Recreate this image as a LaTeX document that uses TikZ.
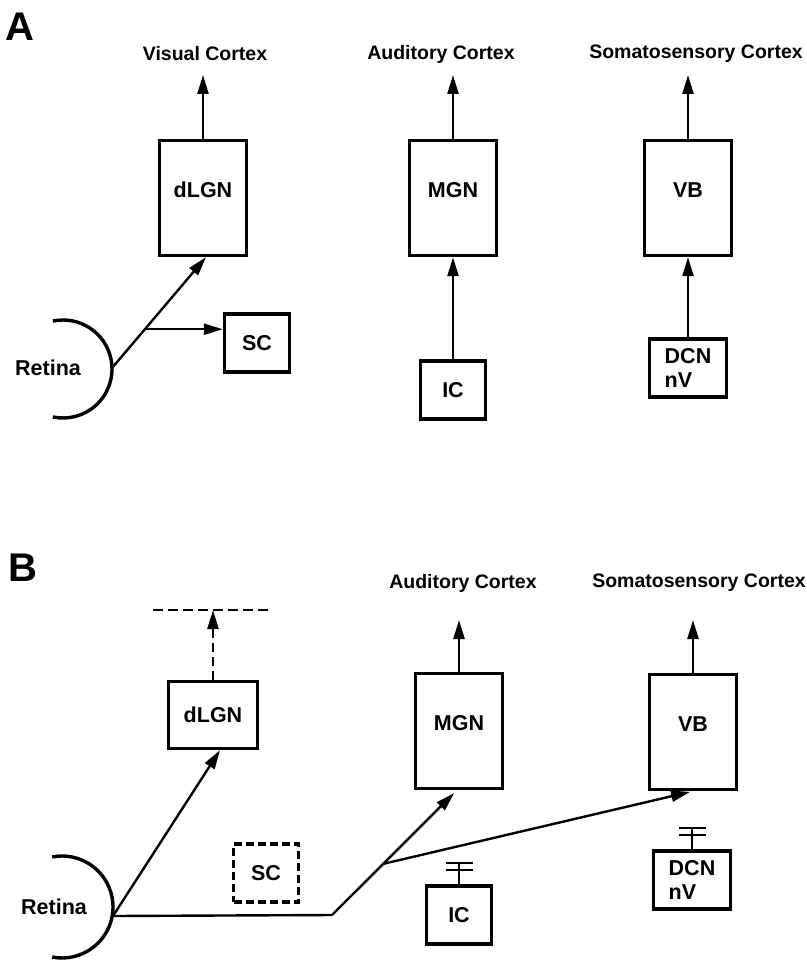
\documentclass[tikz,border=0pt]{standalone}
\usepackage{fontspec}
\setmainfont{Liberation Sans}
\usetikzlibrary{arrows.meta,calc}

\begin{document}
\begin{tikzpicture}[x=1pt, y=1pt, yscale=-1,
    every node/.style={font=\bfseries\fontsize{21.5}{24}\selectfont},
    cortex/.style={font=\bfseries\fontsize{19.5}{22}\selectfont},
    panel/.style={font=\bfseries\fontsize{40}{44}\selectfont},
    bigbox/.style={draw, line width=3.4pt, minimum width=87pt, minimum height=115pt, text depth=16pt, inner sep=0pt},
    smallbox/.style={draw, line width=3.4pt, minimum width=65pt, minimum height=58pt, inner sep=0pt, align=left},
    axon/.style={line width=2.4pt},
    conn/.style={axon, -{Triangle[length=19pt, width=11pt]}},
    bar/.style={line width=2pt},
    retina/.style={line width=3.4pt}]
    \useasboundingbox (0,0) rectangle (806,963);

    % Panel A: normal wiring
    \node[panel] (labA) at (20,27) {A};
    \node[cortex] (visA) at (205,54) {Visual Cortex};
    \node[cortex] (audA) at (441,54) {Auditory Cortex};
    \node[cortex] (somA) at (696,54) {Somatosensory Cortex};
    \coordinate (topA) at (0,75);

    % Thalamic nuclei
    \node[bigbox] (dlgnA) at (203,198) {dLGN};
    \node[bigbox] (mgnA) at (453,198) {MGN};
    \node[bigbox] (vbA) at (688,198) {VB};

    % Inputs
    \node[smallbox] (scA) at (257,343) {SC};
    \node[smallbox] (icA) at (453,390) {IC};
    \node[smallbox, minimum width=77pt] (dcnA) at (688,368) {DCN\\nV};

    % Retina
    \coordinate (retA) at (63,369);
    \coordinate (rA) at (112,368);
    \draw[retina] (retA) ++(-102:49) arc[start angle=-102, end angle=102, radius=49];
    \node (retinaA) at (48,368) {Retina};

    % Arrows
    \draw[conn] (rA) -- ([xshift=3pt]dlgnA.south);
    \coordinate (brA) at ($(rA)!0.35!([xshift=3pt]dlgnA.south)$);
    \draw[conn] (brA) -- (brA -| scA.west);
    \draw[conn] (dlgnA.north) -- (dlgnA.north |- topA);
    \draw[conn] (mgnA.north) -- (mgnA.north |- topA);
    \draw[conn] (vbA.north) -- (vbA.north |- topA);
    \draw[conn] (icA.north) -- (mgnA.south);
    \draw[conn] (dcnA.north) -- (vbA.south);

    % Panel B: rewired
    \node[panel] (labB) at (23,568) {B};
    \node[cortex] (audB) at (463,583) {Auditory Cortex};
    \node[cortex] (somB) at (699,583) {Somatosensory Cortex};
    \coordinate (topB) at (0,620);

    % Thalamic nuclei
    \node[smallbox, minimum width=89pt, minimum height=67pt] (dlgnB) at (213,715) {dLGN};
    \node[bigbox] (mgnB) at (459,731) {MGN};
    \node[bigbox] (vbB) at (693,732) {VB};

    % Inputs
    \node[smallbox, dash pattern=on 8pt off 4pt] (scB) at (266,873) {SC};
    \node[smallbox] (icB) at (459,915) {IC};
    \node[smallbox, minimum width=77pt] (dcnB) at (692,880) {DCN\\nV};

    % Missing visual cortex
    \coordinate (cutL) at (153,610);
    \coordinate (cutR) at (270,610);
    \draw[axon, dash pattern=on 10pt off 5pt] (cutL) -- (cutR);
    \draw[conn, dash pattern=on 9pt off 5pt] (dlgnB.north) -- (dlgnB.north |- cutL);

    % Retina
    \coordinate (retB) at (62,907);
    \coordinate (rB) at (113,916);
    \draw[retina] (retB) ++(-101:51) arc[start angle=-101, end angle=101, radius=51];
    \node (retinaB) at (54,907) {Retina};

    % Arrows
    \coordinate (bendB) at (332,915);
    \draw[conn] (rB) -- ([xshift=7pt]dlgnB.south);
    \draw[conn, shorten >=4pt] (rB) -- (bendB) -- ([xshift=-2pt]mgnB.south);
    \coordinate (forkB) at ($(bendB)!0.41!([xshift=-2pt]mgnB.south)$);
    \draw[conn, shorten >=3pt] (forkB) -- (vbB.south);
    \draw[conn] (mgnB.north) -- (mgnB.north |- topB);
    \draw[conn] (vbB.north) -- (vbB.north |- topB);

    % Cut inputs
    \foreach \src in {icB, dcnB} {
        \draw[axon] (\src.north) -- ++(0,-21) coordinate (\src-stop);
        \foreach \dy in {0,6.5}
            \draw[bar] ([xshift=-13.5pt, yshift=\dy pt]\src-stop) -- ([xshift=13.5pt, yshift=\dy pt]\src-stop);
    }
\end{tikzpicture}
\end{document}
